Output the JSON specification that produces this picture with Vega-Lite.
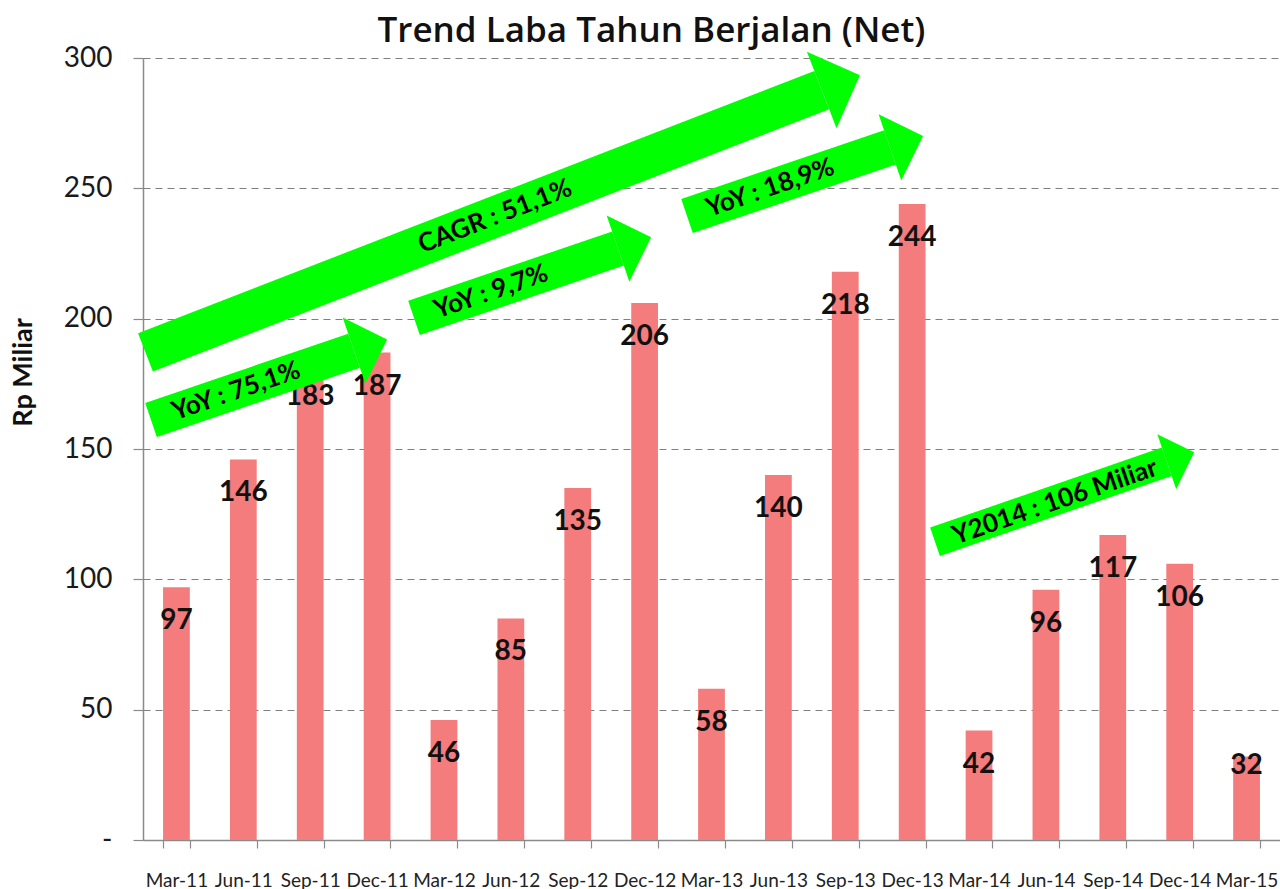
{
  "$schema": "https://vega.github.io/schema/vega-lite/v6.json",
  "autosize": {"type": "none"},
  "padding": {"left": 143, "top": 58, "right": 0, "bottom": 49},
  "width": 1137,
  "height": 782,
  "background": "white",
  "title": {
    "text": "Trend Laba Tahun Berjalan (Net)",
    "font": "Open Sans",
    "fontSize": 35,
    "fontWeight": 600,
    "color": "#111111",
    "anchor": "middle",
    "frame": "group",
    "dx": -60,
    "offset": -5
  },
  "config": {
    "view": {"stroke": null},
    "font": "Lato"
  },
  "datasets": {
    "bars": [
      {"q": "Mar-11", "v": 97}, {"q": "Jun-11", "v": 146}, {"q": "Sep-11", "v": 183},
      {"q": "Dec-11", "v": 187}, {"q": "Mar-12", "v": 46}, {"q": "Jun-12", "v": 85},
      {"q": "Sep-12", "v": 135}, {"q": "Dec-12", "v": 206}, {"q": "Mar-13", "v": 58},
      {"q": "Jun-13", "v": 140}, {"q": "Sep-13", "v": 218}, {"q": "Dec-13", "v": 244},
      {"q": "Mar-14", "v": 42}, {"q": "Jun-14", "v": 96}, {"q": "Sep-14", "v": 117},
      {"q": "Dec-14", "v": 106}, {"q": "Mar-15", "v": 32}
    ],
    "cagr": [
      {"label": "CAGR : 51,1%", "x1": 0.037, "y1": 187.1, "x2": 10.148, "y2": 287.7, "tx": 5.263, "ty": 239.2}
    ],
    "yoy": [
      {"label": "YoY : 75,1%", "x1": 0.12, "y1": 161.1, "x2": 3.155, "y2": 187.7, "tx": 1.391, "ty": 172.2},
      {"label": "YoY : 9,7%", "x1": 4.052, "y1": 200.3, "x2": 7.102, "y2": 226.9, "tx": 5.203, "ty": 210.3},
      {"label": "YoY : 18,9%", "x1": 8.134, "y1": 239.4, "x2": 11.168, "y2": 265.7, "tx": 9.375, "ty": 250.2}
    ],
    "y2014": [
      {"label": "Y2014 : 106 Miliar", "x1": 11.842, "y1": 114.4, "x2": 15.307, "y2": 145.1, "tx": 13.636, "ty": 129.7}
    ]
  },
  "layer": [
    {
      "data": {"name": "bars"},
      "encoding": {
        "x": {
          "field": "q", "type": "nominal", "sort": null,
          "scale": {"paddingInner": 0.6, "paddingOuter": 0.3},
          "axis": {
            "title": null, "labelAngle": 0, "labelFont": "Lato", "labelFontSize": 19,
            "labelColor": "#222222", "labelPadding": 23, "labelOverlap": false, "labelBound": false,
            "tickBand": "extent", "tickSize": 8, "tickColor": "#8a8a8a", "tickWidth": 1.2,
            "domainColor": "#8a8a8a", "domainWidth": 1.5, "grid": false
          }
        },
        "y": {
          "field": "v", "type": "quantitative",
          "scale": {"domain": [0, 300], "nice": false},
          "axis": {
            "title": "Rp Miliar", "titleFont": "Lato", "titleFontSize": 27, "titleFontWeight": "bold",
            "titleColor": "#111111", "titleX": -120, "titleY": 314, "titleAngle": 270, "titleBaseline": "middle",
            "values": [0, 50, 100, 150, 200, 250, 300],
            "labelExpr": "datum.value === 0 ? '-\u2007' : datum.label",
            "labelFont": "Lato", "labelFontSize": 28, "labelColor": "#1a1a1a", "labelPadding": 21,
            "tickSize": 10, "tickColor": "#8a8a8a", "tickWidth": 1.2,
            "domainColor": "#8a8a8a", "domainWidth": 1.5,
            "grid": true, "gridDash": [7, 5], "gridColor": "#7f7f7f", "gridWidth": 1.2
          }
        }
      },
      "layer": [
        {"mark": {"type": "bar", "color": "#F47C7C"}},
        {
          "transform": [{"filter": "datum.v >= 40"}],
          "mark": {"type": "text", "font": "Lato", "fontSize": 28, "fontWeight": "bold", "color": "#111111", "baseline": "middle", "dy": 34},
          "encoding": {"text": {"field": "v", "type": "quantitative"}}
        },
        {
          "transform": [{"filter": "datum.v < 40"}],
          "mark": {"type": "text", "font": "Lato", "fontSize": 28, "fontWeight": "bold", "color": "#111111", "baseline": "middle", "dy": 9},
          "encoding": {"text": {"field": "v", "type": "quantitative"}}
        }
      ]
    },
    {
      "layer": [
        {
          "data": {"name": "cagr"},
          "mark": {"type": "rule", "color": "#00ff00", "strokeWidth": 41, "strokeCap": "butt"},
          "encoding": {
            "x": {"field": "x1", "type": "quantitative", "scale": {"domain": [0, 17], "nice": false, "zero": false}, "axis": null},
            "y": {"field": "y1", "type": "quantitative", "scale": {"domain": [0, 300], "nice": false}},
            "x2": {"field": "x2"},
            "y2": {"field": "y2"}
          }
        },
        {
          "data": {"name": "cagr"},
          "mark": {"type": "point", "shape": "M0,-1L1,0L0,1Z", "filled": true, "opacity": 1, "color": "#00ff00", "strokeWidth": 0, "size": 6724, "angle": -21.2},
          "encoding": {
            "x": {"field": "x2", "type": "quantitative", "scale": {"domain": [0, 17], "nice": false, "zero": false}, "axis": null},
            "y": {"field": "y2", "type": "quantitative", "scale": {"domain": [0, 300], "nice": false}}
          }
        },
        {
          "data": {"name": "cagr"},
          "mark": {"type": "text", "font": "Lato", "fontSize": 26, "fontWeight": "bold", "color": "#000000", "angle": -21.2, "align": "center", "baseline": "middle"},
          "encoding": {
            "x": {"field": "tx", "type": "quantitative", "scale": {"domain": [0, 17], "nice": false, "zero": false}, "axis": null},
            "y": {"field": "ty", "type": "quantitative", "scale": {"domain": [0, 300], "nice": false}},
            "text": {"field": "label"}
          }
        },
        {
          "data": {"name": "yoy"},
          "mark": {"type": "rule", "color": "#00ff00", "strokeWidth": 36, "strokeCap": "butt"},
          "encoding": {
            "x": {"field": "x1", "type": "quantitative", "scale": {"domain": [0, 17], "nice": false, "zero": false}, "axis": null},
            "y": {"field": "y1", "type": "quantitative", "scale": {"domain": [0, 300], "nice": false}},
            "x2": {"field": "x2"},
            "y2": {"field": "y2"}
          }
        },
        {
          "data": {"name": "yoy"},
          "mark": {"type": "point", "shape": "M0,-1L1,0L0,1Z", "filled": true, "opacity": 1, "color": "#00ff00", "strokeWidth": 0, "size": 4900, "angle": -18.9},
          "encoding": {
            "x": {"field": "x2", "type": "quantitative", "scale": {"domain": [0, 17], "nice": false, "zero": false}, "axis": null},
            "y": {"field": "y2", "type": "quantitative", "scale": {"domain": [0, 300], "nice": false}}
          }
        },
        {
          "data": {"name": "yoy"},
          "mark": {"type": "text", "font": "Lato", "fontSize": 26, "fontWeight": "bold", "color": "#000000", "angle": -18.9, "align": "center", "baseline": "middle"},
          "encoding": {
            "x": {"field": "tx", "type": "quantitative", "scale": {"domain": [0, 17], "nice": false, "zero": false}, "axis": null},
            "y": {"field": "ty", "type": "quantitative", "scale": {"domain": [0, 300], "nice": false}},
            "text": {"field": "label"}
          }
        },
        {
          "data": {"name": "y2014"},
          "mark": {"type": "rule", "color": "#00ff00", "strokeWidth": 30, "strokeCap": "butt"},
          "encoding": {
            "x": {"field": "x1", "type": "quantitative", "scale": {"domain": [0, 17], "nice": false, "zero": false}, "axis": null},
            "y": {"field": "y1", "type": "quantitative", "scale": {"domain": [0, 300], "nice": false}},
            "x2": {"field": "x2"},
            "y2": {"field": "y2"}
          }
        },
        {
          "data": {"name": "y2014"},
          "mark": {"type": "point", "shape": "M0,-1L1,0L0,1Z", "filled": true, "opacity": 1, "color": "#00ff00", "strokeWidth": 0, "size": 3364, "angle": -19},
          "encoding": {
            "x": {"field": "x2", "type": "quantitative", "scale": {"domain": [0, 17], "nice": false, "zero": false}, "axis": null},
            "y": {"field": "y2", "type": "quantitative", "scale": {"domain": [0, 300], "nice": false}}
          }
        },
        {
          "data": {"name": "y2014"},
          "mark": {"type": "text", "font": "Lato", "fontSize": 26, "fontWeight": "bold", "color": "#000000", "angle": -19, "align": "center", "baseline": "middle"},
          "encoding": {
            "x": {"field": "tx", "type": "quantitative", "scale": {"domain": [0, 17], "nice": false, "zero": false}, "axis": null},
            "y": {"field": "ty", "type": "quantitative", "scale": {"domain": [0, 300], "nice": false}},
            "text": {"field": "label"}
          }
        }
      ]
    }
  ],
  "resolve": {"scale": {"x": "independent"}}
}
